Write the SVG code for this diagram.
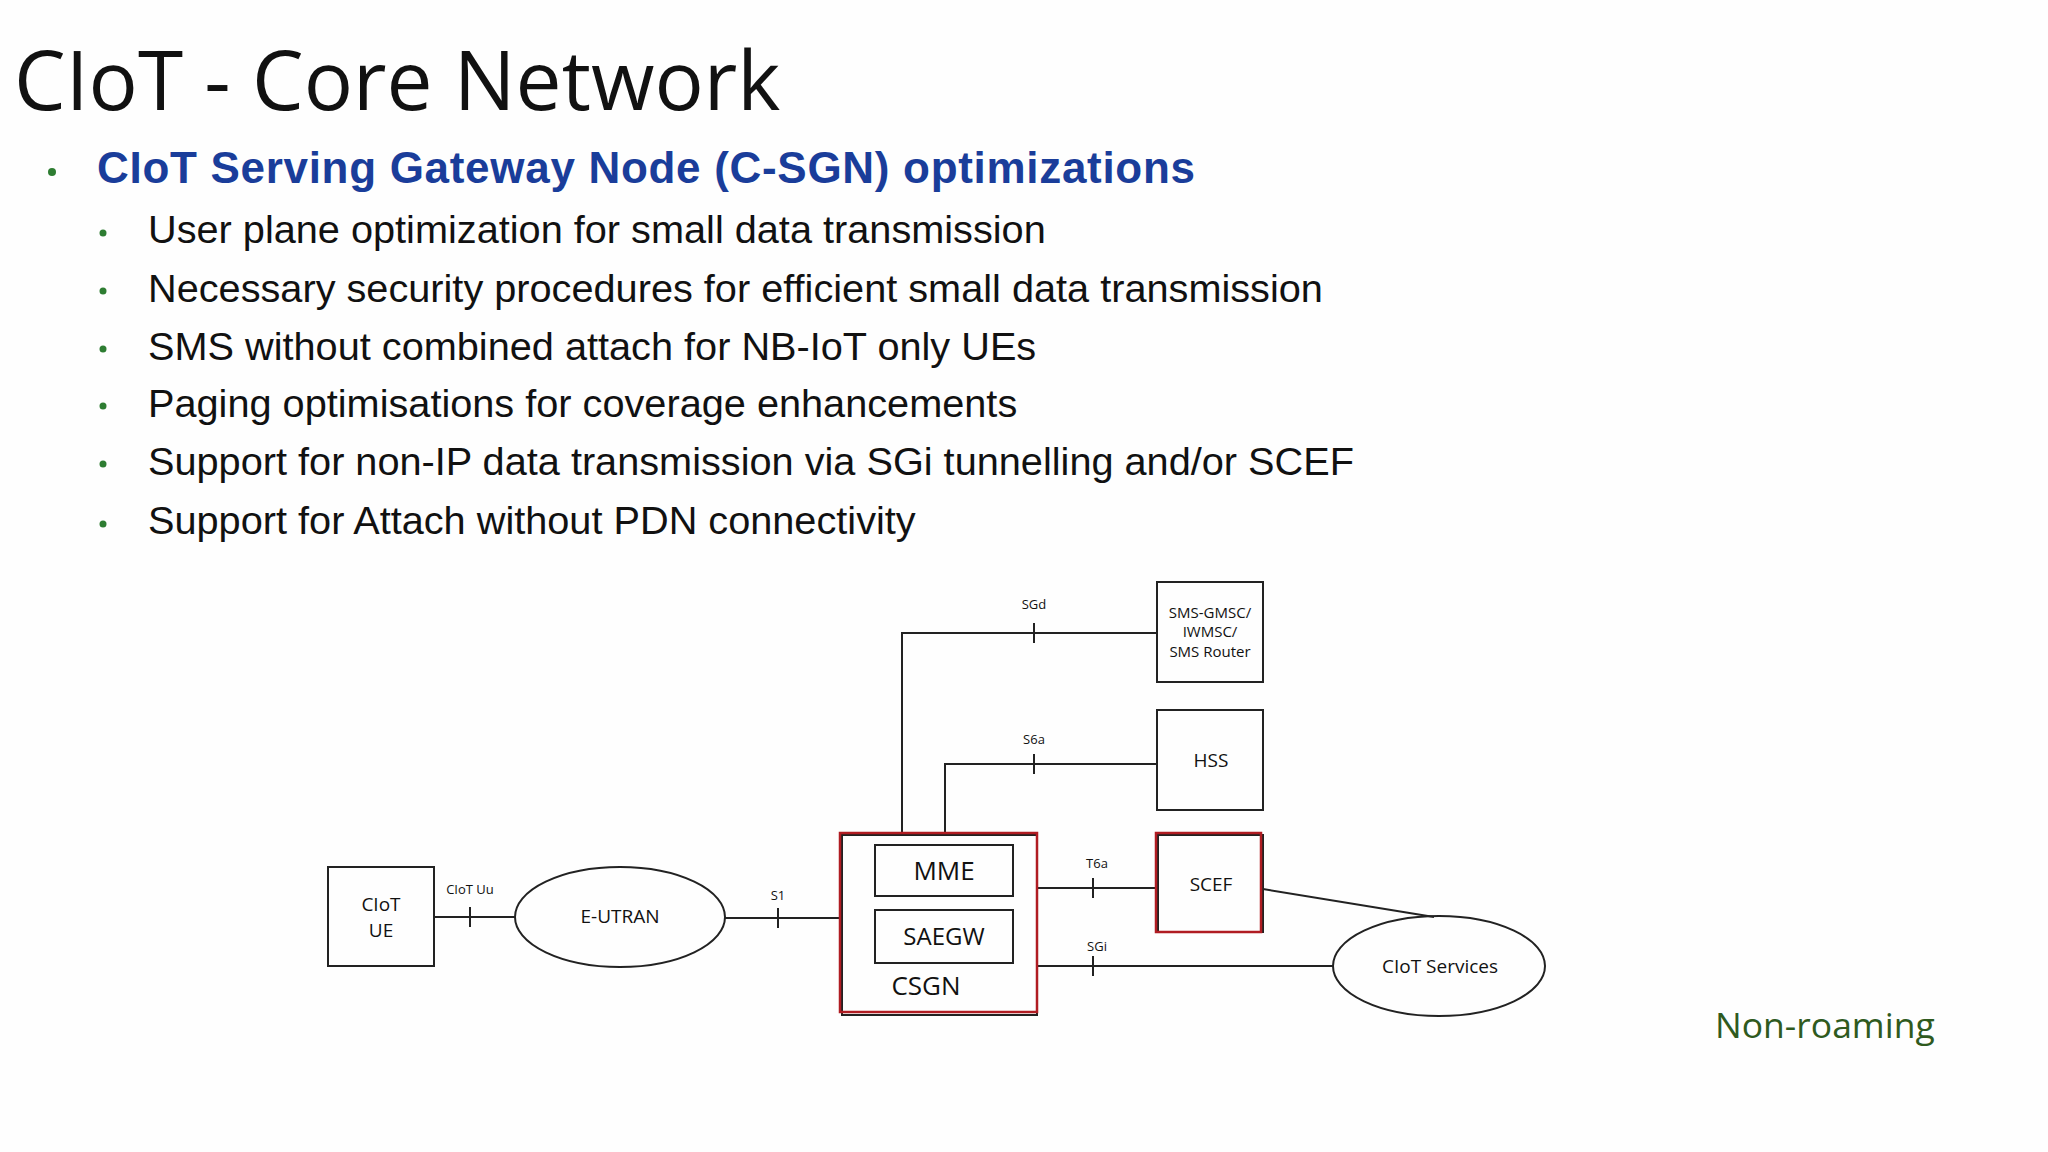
<svg xmlns="http://www.w3.org/2000/svg" width="2048" height="1152" viewBox="0 0 2048 1152">
<style>
.b{fill:none;stroke:#222;stroke-width:2}
.r{fill:none;stroke:#b01c22;stroke-width:2.5}
.l{fill:none;stroke:#222;stroke-width:2}
.t{font-family:"Open Sans","Liberation Sans",sans-serif;fill:#111;text-anchor:middle}
.s{font-family:"Liberation Sans",Arial,sans-serif;font-size:39.7px;fill:#111}
.d{fill:#2e7d32}
</style>
<rect width="2048" height="1152" fill="#fefefe"/>
<text x="14" y="110" font-family="'Open Sans','Liberation Sans',sans-serif" font-size="82" fill="#111">CIoT - Core Network</text>
<circle class="d" cx="52" cy="172" r="4"/>
<text x="97" y="183" font-family="'Liberation Sans',Arial,sans-serif" font-weight="bold" font-size="44" fill="#1a3d9a" textLength="1098">CIoT Serving Gateway Node (C-SGN) optimizations</text>
<g>
<circle class="d" cx="103" cy="233" r="3.5"/><text class="s" x="148" y="243">User plane optimization for small data transmission</text>
<circle class="d" cx="103" cy="291" r="3.5"/><text class="s" x="148" y="302">Necessary security procedures for efficient small data transmission</text>
<circle class="d" cx="103" cy="349" r="3.5"/><text class="s" x="148" y="360">SMS without combined attach for NB-IoT only UEs</text>
<circle class="d" cx="103" cy="406" r="3.5"/><text class="s" x="148" y="417">Paging optimisations for coverage enhancements</text>
<circle class="d" cx="103" cy="464" r="3.5"/><text class="s" x="148" y="475">Support for non-IP data transmission via SGi tunnelling and/or SCEF</text>
<circle class="d" cx="103" cy="524" r="3.5"/><text class="s" x="148" y="534">Support for Attach without PDN connectivity</text>
</g>
<g id="connectors">
<path class="l" d="M434 917H515M470 907V927"/>
<path class="l" d="M725 918H840M778 908V928"/>
<path class="l" d="M902 833V633H1157M1034 623V643"/>
<path class="l" d="M945 833V764H1157M1034 754V774"/>
<path class="l" d="M1037 888H1156M1093 878V898"/>
<path class="l" d="M1037 966H1333M1093 956V976"/>
<path class="l" d="M1263 889L1434 917"/>
<g class="t" font-size="13">
<text x="470" y="894">CIoT Uu</text><text x="778" y="900">S1</text><text x="1034" y="609">SGd</text>
<text x="1034" y="744">S6a</text><text x="1097" y="868">T6a</text><text x="1097" y="951">SGi</text>
</g>
</g>
<g id="ue"><rect class="b" x="328" y="867" width="106" height="99"/><text class="t" font-size="19" x="381" y="911">CIoT</text><text class="t" font-size="19" x="381" y="937">UE</text></g>
<g id="eutran"><ellipse class="b" cx="620" cy="917" rx="105" ry="50"/><text class="t" font-size="19" x="620" y="923">E-UTRAN</text></g>
<g id="csgn"><rect class="b" x="842" y="835" width="195" height="180"/><rect class="r" x="840" y="833" width="197" height="179"/><text class="t" font-size="26" x="926" y="995">CSGN</text></g>
<g id="mme"><rect class="b" x="875" y="845" width="138" height="51"/><text class="t" font-size="26" x="944" y="880">MME</text></g>
<g id="saegw"><rect class="b" x="875" y="910" width="138" height="53"/><text class="t" font-size="24" x="944" y="945">SAEGW</text></g>
<g id="sms"><rect class="b" x="1157" y="582" width="106" height="100"/><text class="t" font-size="15" x="1210" y="618">SMS-GMSC/</text><text class="t" font-size="15" x="1210" y="637">IWMSC/</text><text class="t" font-size="15" x="1210" y="657">SMS Router</text></g>
<g id="hss"><rect class="b" x="1157" y="710" width="106" height="100"/><text class="t" font-size="19" x="1211" y="767">HSS</text></g>
<g id="scef"><rect class="b" x="1158" y="835" width="105" height="97"/><rect class="r" x="1156" y="833" width="105" height="99"/><text class="t" font-size="19" x="1211" y="891">SCEF</text></g>
<g id="services"><ellipse class="b" cx="1439" cy="966" rx="106" ry="50"/><text class="t" font-size="19" x="1440" y="973">CIoT Services</text></g>
<text x="1715" y="1038" font-family="'Open Sans','Liberation Sans',sans-serif" font-size="35.5" fill="#2f5a1e">Non-roaming</text>
</svg>
